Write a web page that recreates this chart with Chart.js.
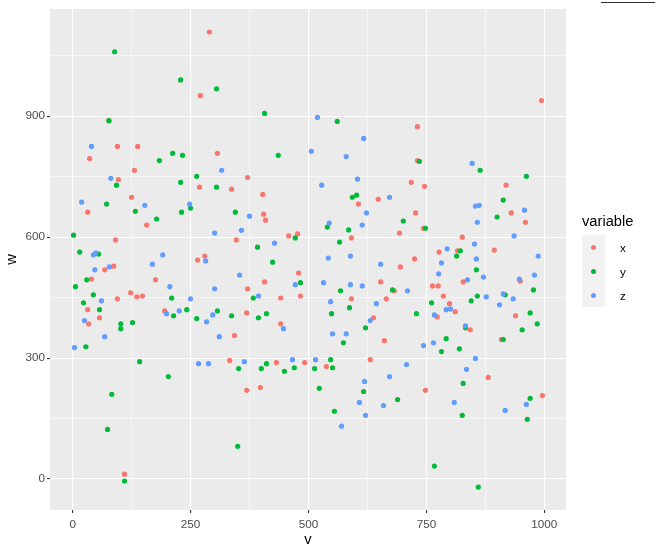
<!DOCTYPE html>
<html lang="en">
<head>
  <meta charset="UTF-8" />
  <title>v vs w</title>
  <script src="https://cdn.jsdelivr.net/npm/chart.js"></script>
  <style>
    body { margin: 0; background: #fff; font-family: "Liberation Sans", Arial, sans-serif; }
    #wrap { position: relative; width: 655px; height: 555px; }
    #legend { position: absolute; left: 582px; top: 213px; }
    #legend .title { font-size: 14.7px; color: #000; margin-bottom: 6px; }
    #legend .row { display: flex; align-items: center; height: 24px; }
    #legend .key { width: 23px; height: 24px; background: #f2f2f2; position: relative; }
    #legend .dot { position: absolute; left: 9px; top: 9.5px; width: 5px; height: 5px; border-radius: 50%; }
    #legend .lab { font-size: 11.7px; color: #000; margin-left: 15px; }
    #corner { position: absolute; left: 601px; top: 2px; width: 54px; height: 1px; background: #333; }
  </style>
</head>
<body>
  <div id="wrap">
    <canvas id="chart" width="655" height="555"></canvas>
    <div id="legend"></div>
    <div id="corner"></div>
  </div>

  <script>
    // series "x"
    const xSeriesV = [77, 95, 138, 36, 131, 290, 271, 307, 371, 731, 731, 994,
      97, 125, 32, 157, 91, 87, 68, 176, 40, 123, 136, 148, 95, 32, 195, 34, 57,
      269, 337, 403, 405, 409, 347, 458, 477, 280, 265, 479, 407, 371, 441, 483, 369, 441, 343,
      718, 746, 648, 606, 727, 744, 693, 591, 725, 777, 695, 653, 682, 763, 775, 591, 665, 773, 638, 661,
      919, 930, 960, 826, 816, 894, 949, 828, 786, 799, 811, 939, 843, 909,
      110, 333, 432, 492, 369, 398, 631, 538, 748, 881, 996];
    const xSeriesW = [889, 825, 825, 795, 766, 1109, 951, 808, 748, 874, 790, 939,
      743, 699, 662, 630, 593, 528, 519, 494, 496, 462, 452, 454, 447, 420, 417, 385, 400,
      724, 719, 706, 657, 642, 593, 603, 608, 553, 543, 511, 489, 472, 449, 454, 412, 385, 356,
      736, 726, 694, 682, 660, 622, 610, 598, 546, 563, 526, 489, 467, 479, 479, 447, 447, 402, 400, 343,
      729, 660, 637, 600, 566, 568, 491, 489, 454, 435, 415, 405, 370, 346,
      12, 294, 289, 289, 220, 227, 296, 279, 220, 252, 207];

    // series "y"
    const ySeriesV = [89, 229, 77, 212, 184, 305, 407, 233, 436, 263, 561, 735, 864, 962,
      93, 229, 72, 133, 231, 178, 2, 15, 55, 30, 6, 44, 210, 23, 57, 214, 102, 102, 127, 28,
      305, 250, 345, 472, 392, 424, 483, 383, 242, 307, 337, 411, 263, 394,
      593, 602, 540, 701, 585, 748, 566, 568, 678, 761, 549, 587, 729, 621, 574,
      913, 900, 822, 814, 856, 977, 858, 917, 845, 970, 985, 833, 953, 792, 913,
      142, 203, 83, 74, 110, 352, 400, 411, 470, 449, 350,
      547, 513, 551, 523, 617, 689, 555, 767, 782, 820, 828, 970, 826, 964, 860];
    const ySeriesW = [1060, 990, 889, 808, 790, 968, 907, 803, 803, 751, 887, 788, 766, 751,
      729, 736, 682, 664, 662, 645, 605, 563, 558, 494, 477, 457, 449, 437, 420, 405, 385, 373, 388, 328,
      724, 672, 662, 598, 575, 538, 487, 449, 420, 417, 405, 410, 398, 400,
      699, 704, 625, 640, 618, 622, 588, 467, 469, 437, 410, 425, 410, 375, 338,
      692, 650, 566, 553, 519, 469, 454, 457, 442, 412, 385, 375, 370, 348, 346,
      291, 254, 210, 123, -5, 274, 274, 286, 276, 267, 81,
      296, 274, 276, 225, 217, 197, 168, 32, 316, 323, 237, 200, 158, 148, -20];

    // series "z"
    const zSeriesV = [40, 316, 519, 617, 506, 580, 847,
      81, 19, 153, 44, 49, 191, 169, 78, 47, 206, 61, 199, 226, 25, 68, 4,
      248, 375, 358, 301, 428, 282, 354, 472, 301, 394, 250, 297, 284, 447, 311,
      528, 604, 672, 623, 544, 614, 542, 589, 653, 782, 776, 532, 589, 614, 710, 547, 644, 767, 631, 551, 580, 744, 765,
      854, 862, 958, 858, 936, 852, 794, 987, 856, 871, 979, 947, 837, 877, 913, 934, 905, 792, 801, 833,
      267, 288, 364, 466, 515, 708, 619, 672, 608, 659, 621, 570,
      854, 835, 809, 962, 917];
    const zSeriesW = [825, 766, 897, 845, 813, 800, 783,
      746, 687, 679, 556, 561, 556, 533, 526, 519, 477, 442, 410, 417, 393, 353, 326,
      682, 652, 617, 610, 585, 541, 506, 482, 472, 454, 447, 407, 390, 373, 353,
      729, 744, 699, 660, 635, 630, 548, 553, 533, 536, 509, 487, 482, 479, 467, 440, 435, 407, 393, 360, 360, 331, 338,
      677, 679, 667, 637, 603, 583, 571, 553, 546, 501, 506, 496, 494, 452, 459, 447, 432, 420, 422, 380,
      286, 286, 291, 296, 296, 284, 242, 254, 190, 182, 158, 131,
      299, 272, 190, 185, 170];

    const seriesNames = ['x', 'y', 'z'];
    const seriesColors = ['#F8766D', '#00BA38', '#619CFF'];

    const xMajor = [0, 250, 500, 750, 1000];
    const xMinor = [125, 375, 625, 875];
    const yMajor = [0, 300, 600, 900];
    const yMinor = [150, 450, 750, 1050];

    const toPoints = (vs, ws) => vs.map((v, i) => ({ x: v, y: ws[i] }));
    const seriesData = [
      toPoints(xSeriesV, xSeriesW),
      toPoints(ySeriesV, ySeriesW),
      toPoints(zSeriesV, zSeriesW)
    ];

    const isMajor = (list, v) => list.includes(v);

    const panelBg = {
      id: 'panelBg',
      beforeDraw(chart) {
        const { ctx, chartArea: a } = chart;
        ctx.save();
        ctx.fillStyle = '#EBEBEB';
        ctx.fillRect(a.left, a.top, a.right - a.left, a.bottom - a.top);
        ctx.restore();
      }
    };

    function axis(major, minor, min, max, title, fitSize, horiz) {
      const all = [...major, ...minor].sort((a, b) => a - b);
      return {
        type: 'linear',
        min: min,
        max: max,
        afterBuildTicks: s => { s.ticks = all.map(v => ({ value: v })); },
        afterFit: s => { if (horiz) s.height = fitSize; else s.width = fitSize; },
        border: { display: false },
        grid: {
          color: '#FFFFFF',
          lineWidth: c => isMajor(major, c.tick.value) ? 1.1 : 0.55,
          tickColor: c => isMajor(major, c.tick.value) ? '#333333' : 'rgba(0,0,0,0)',
          tickWidth: 1.1,
          tickLength: 3
        },
        ticks: {
          autoSkip: false,
          maxRotation: 0,
          padding: horiz ? 5 : 2,
          color: '#4D4D4D',
          font: { family: '"Liberation Sans", Arial, sans-serif', size: 11.7 },
          callback: v => isMajor(major, v) ? String(v) : ''
        },
        title: {
          display: true,
          text: title,
          color: '#000000',
          padding: { top: 3, bottom: 6 },
          font: { family: '"Liberation Sans", Arial, sans-serif', size: 14.7 }
        }
      };
    }

    new Chart(document.getElementById('chart'), {
      type: 'scatter',
      data: {
        datasets: seriesNames.map((name, i) => ({
          label: name,
          data: seriesData[i],
          backgroundColor: seriesColors[i],
          borderWidth: 0,
          pointRadius: 2.6,
          order: 3 - i
        }))
      },
      options: {
        responsive: false,
        animation: false,
        devicePixelRatio: 1,
        layout: { padding: { top: 7, right: 89, bottom: 0, left: 0 } },
        plugins: { legend: { display: false }, tooltip: { enabled: false } },
        scales: {
          x: axis(xMajor, xMinor, -48, 1046, 'v', 45, true),
          y: axis(yMajor, yMinor, -77, 1166, 'w', 50, false)
        }
      },
      plugins: [panelBg]
    });

    // legend
    const legend = document.getElementById('legend');
    legend.innerHTML = '<div class="title">variable</div>' + seriesNames.map((n, i) =>
      `<div class="row"><div class="key"><span class="dot" style="background:${seriesColors[i]}"></span></div><span class="lab">${n}</span></div>`
    ).join('');
  </script>
</body>
</html>
